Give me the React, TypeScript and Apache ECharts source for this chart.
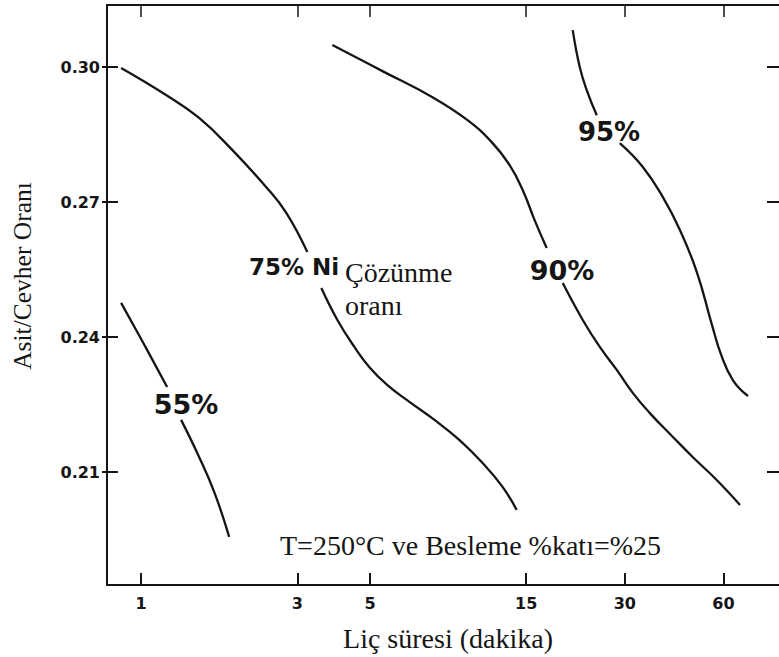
import React, { useEffect, useRef } from "react";
import * as echarts from "echarts";

// Leaching time (min) tick values on the logarithmic axis
const timeTicks = [1, 3, 5, 15, 30, 60];
// Acid/ore ratio tick values
const ratioTicks = [0.21, 0.24, 0.27, 0.3];

// Iso-dissolution contours: [time (min), acid/ore ratio]; each line is split where its label sits
const c55Upper = [[0.869, 0.2476], [1.021, 0.2384], [1.201, 0.2289]];
const c55Lower = [[1.325, 0.2216], [1.494, 0.2138], [1.672, 0.2056], [1.858, 0.1956]];
const c75Upper = [[0.869, 0.2998], [1.192, 0.2938], [1.504, 0.2887], [1.898, 0.2816], [2.412, 0.2733], [2.776, 0.2676], [3.218, 0.2589]];
const c75Lower = [[3.552, 0.2509], [3.976, 0.2438], [4.481, 0.2378], [4.981, 0.2333], [5.653, 0.2293], [6.599, 0.2256], [7.87, 0.2216], [9.386, 0.2171], [11.04, 0.212], [12.7, 0.2067], [14.02, 0.2016]];
const c90Upper = [[3.838, 0.3049], [5.458, 0.2991], [7.762, 0.2933], [9.93, 0.2882], [11.84, 0.2831], [13.35, 0.2782], [14.63, 0.2727], [15.91, 0.266], [17.32, 0.2598]];
const c90Lower = [[19.39, 0.252], [22.32, 0.2438], [25.16, 0.2378], [28.35, 0.2327], [31.72, 0.2276], [35.77, 0.2231], [42.06, 0.2178], [48.42, 0.2133], [56.94, 0.2084], [67.42, 0.2027]];
const c95Upper = [[20.8, 0.3082], [21.85, 0.3], [22.95, 0.2949], [24.63, 0.2893]];
const c95Lower = [[28.96, 0.2831], [34.05, 0.2778], [39.2, 0.2711], [44.19, 0.2638], [49.81, 0.2544], [55.36, 0.2427], [58.96, 0.2362], [64.18, 0.2304], [71.33, 0.2269]];

const contourSegments = [
  { name: "55%", data: c55Upper },
  { name: "55%", data: c55Lower },
  { name: "75%", data: c75Upper },
  { name: "75%", data: c75Lower },
  { name: "90%", data: c90Upper },
  { name: "90%", data: c90Lower },
  { name: "95%", data: c95Upper },
  { name: "95%", data: c95Lower },
];

const INK = "#151515";
const SERIF = '"Liberation Serif", "Times New Roman", serif';
const LETTERING = '"DejaVu Sans", Verdana, sans-serif';

export default function App() {
  const ref = useRef<HTMLDivElement>(null);

  useEffect(() => {
    if (!ref.current) return;
    const chart = echarts.init(ref.current, null, { renderer: "svg" });

    const xMin = 0.787;
    const xMax = 88.7;
    const yMin = 0.1849;
    const yMax = 0.3138;

    const contourText = (text: string, x: number, y: number, size: number, align = "center") => ({
      type: "text",
      x,
      y,
      silent: true,
      style: {
        text,
        fontFamily: LETTERING,
        fontWeight: "bold",
        fontSize: size,
        fill: INK,
        align,
        verticalAlign: "middle",
      },
    });

    const serifText = (text: string, x: number, y: number, size: number, extra: any = {}) => ({
      type: "text",
      x,
      y,
      silent: true,
      ...extra,
      style: {
        text,
        fontFamily: SERIF,
        fontSize: size,
        fill: INK,
        align: "left",
        verticalAlign: "middle",
        ...(extra.style || {}),
      },
    });

    chart.setOption({
      animation: false,
      backgroundColor: "#ffffff",
      grid: { left: 107, top: 5, right: 0, bottom: 72, containLabel: false },
      xAxis: [
        {
          type: "log",
          logBase: 10,
          min: xMin,
          max: xMax,
          position: "bottom",
          axisLine: { show: true, onZero: false, lineStyle: { color: INK, width: 2 } },
          axisTick: { show: true, inside: true, length: 12, customValues: timeTicks, lineStyle: { color: INK, width: 2 } },
          minorTick: { show: false },
          axisLabel: {
            show: true,
            customValues: timeTicks,
            margin: 10,
            fontFamily: LETTERING,
            fontWeight: "bold",
            fontSize: 16,
            color: INK,
            formatter: (v: number) => String(Math.round(v)),
          },
          splitLine: { show: false },
          minorSplitLine: { show: false },
        },
        {
          type: "log",
          logBase: 10,
          min: xMin,
          max: xMax,
          position: "top",
          axisLine: { show: true, onZero: false, lineStyle: { color: INK, width: 2 } },
          axisTick: { show: true, inside: true, length: 12, customValues: timeTicks, lineStyle: { color: INK, width: 1.5 } },
          minorTick: { show: false },
          axisLabel: { show: false },
          splitLine: { show: false },
        },
      ],
      yAxis: [
        {
          type: "value",
          min: yMin,
          max: yMax,
          position: "left",
          axisLine: { show: true, onZero: false, lineStyle: { color: INK, width: 2 } },
          axisTick: { show: true, inside: true, length: 11, customValues: ratioTicks, lineStyle: { color: INK, width: 2 } },
          axisLabel: {
            show: true,
            customValues: ratioTicks,
            margin: 7,
            fontFamily: LETTERING,
            fontWeight: "bold",
            fontSize: 16,
            color: INK,
            formatter: (v: number) => v.toFixed(2),
          },
          splitLine: { show: false },
        },
        {
          type: "value",
          min: yMin,
          max: yMax,
          position: "right",
          axisLine: { show: false },
          axisTick: { show: true, inside: true, length: 12, customValues: ratioTicks, lineStyle: { color: INK, width: 2 } },
          axisLabel: { show: false },
          splitLine: { show: false },
        },
        {
          // short outward stubs so the left ticks cross the frame
          type: "value",
          min: yMin,
          max: yMax,
          position: "left",
          axisLine: { show: false },
          axisTick: { show: true, inside: false, length: 5, customValues: ratioTicks, lineStyle: { color: INK, width: 2 } },
          axisLabel: { show: false },
          splitLine: { show: false },
        },
      ],
      series: contourSegments.map((seg) => ({
        type: "line",
        name: seg.name,
        xAxisIndex: 0,
        yAxisIndex: 0,
        data: seg.data,
        smooth: 0.45,
        showSymbol: false,
        symbol: "none",
        lineStyle: { color: INK, width: 2.3 },
        silent: true,
      })),
      graphic: [
        contourText("55%", 186, 404, 27),
        contourText("75% Ni", 249, 267, 23, "left"),
        contourText("90%", 562, 270, 27),
        contourText("95%", 609, 132, 26),
        serifText("Çözünme\noranı", 345, 289, 28, { style: { lineHeight: 33 } }),
        serifText("T=250°C ve Besleme %katı=%25", 280, 545, 28),
        serifText("Liç süresi (dakika)", 448, 638, 28, { style: { align: "center" } }),
        serifText("Asit/Cevher Oranı", 22, 276, 25.5, { rotation: Math.PI / 2, style: { align: "center" } }),
      ],
    });

    return () => chart.dispose();
  }, []);

  return (
    <div
      ref={ref}
      style={{ position: "fixed", left: 0, top: 0, width: 779, height: 657, background: "#fff" }}
    />
  );
}
